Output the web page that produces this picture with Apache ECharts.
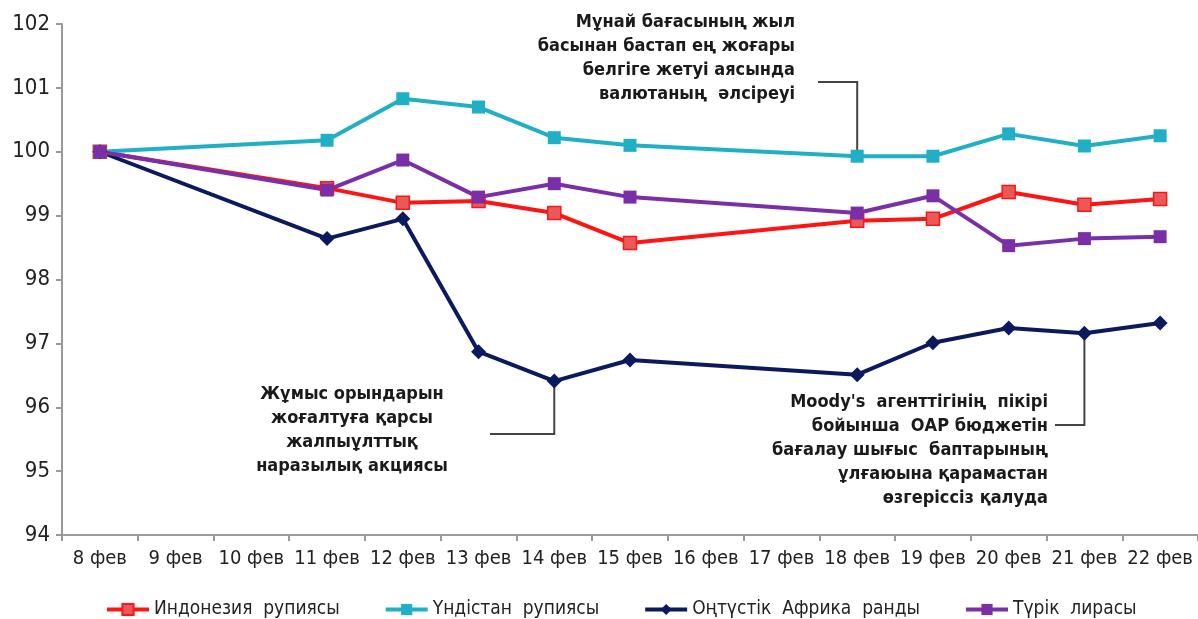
<!DOCTYPE html>
<html>
<head>
<meta charset="utf-8">
<script src="https://cdn.jsdelivr.net/npm/echarts@6/dist/echarts.min.js"></script>
<style>
  html, body { margin: 0; padding: 0; background: #fff; }
  #chart { width: 1198px; height: 619px; }
</style>
</head>
<body>
<div id="chart"></div>
<script>
var FONT = "'Liberation Sans Narrow', 'DejaVu Sans Condensed', 'Liberation Sans', sans-serif";

var days = ['8 фев', '9 фев', '10 фев', '11 фев', '12 фев', '13 фев', '14 фев', '15 фев',
            '16 фев', '17 фев', '18 фев', '19 фев', '20 фев', '21 фев', '22 фев'];

// null = no trading day, line connects over it
var indonesia = [100, null, null, 99.43, 99.20, 99.23, 99.04, 98.57, null, null, 98.92, 98.95, 99.37, 99.17, 99.26];
var india     = [100, null, null, 100.18, 100.83, 100.70, 100.22, 100.10, null, null, 99.93, 99.93, 100.28, 100.09, 100.25];
var safrica   = [100, null, null, 98.64, 98.95, 96.87, 96.41, 96.74, null, null, 96.51, 97.01, 97.24, 97.16, 97.32];
var turkey    = [100, null, null, 99.40, 99.87, 99.29, 99.50, 99.29, null, null, 99.04, 99.31, 98.53, 98.64, 98.67];

var names = ['Индонезия  рупиясы', 'Үндістан  рупиясы', 'Оңтүстік  Африка  ранды', 'Түрік  лирасы'];

var notes = [
  { text: 'Мұнай бағасының жыл\nбасынан бастап ең жоғары\nбелгіге жетуі аясында\nвалютаның  әлсіреуі', series: india, day: 10 },
  { text: 'Жұмыс орындарын\nжоғалтуға қарсы\nжалпыұлттық\nнаразылық акциясы', series: safrica, day: 6 },
  { text: "Moody's  агенттігінің  пікірі\nбойынша  ОАР бюджетін\nбағалау шығыс  баптарының\nұлғаюына қарамастан\nөзгеріссіз қалуда", series: safrica, day: 13 }
];

var chart = echarts.init(document.getElementById('chart'));

function line(name, data, color, symbol, fill) {
  return {
    name: name,
    type: 'line',
    data: data,
    connectNulls: true,
    symbol: symbol,
    symbolSize: symbol === 'diamond' ? 15 : 13,
    lineStyle: { color: color, width: 4 },
    itemStyle: { color: fill || color, borderColor: color, borderWidth: fill ? 1.5 : 0 },
    emphasis: { disabled: true },
    z: 3
  };
}

chart.setOption({
  animation: false,
  textStyle: { fontFamily: FONT },
  grid: { left: 62, top: 24, width: 1146, height: 511, containLabel: false },
  legend: {
    top: 595,
    left: 100,
    itemWidth: 42,
    itemHeight: 14,
    itemGap: 44,
    lineStyle: { width: 4 },
    textStyle: { fontSize: 19, color: '#222', fontFamily: FONT },
    data: names
  },
  xAxis: {
    type: 'category',
    data: days,
    boundaryGap: true,
    axisLine: { lineStyle: { color: '#999', width: 2 } },
    axisTick: { show: true, length: 6, lineStyle: { color: '#999', width: 2 } },
    axisLabel: { interval: 0, fontSize: 20, color: '#222', margin: 14, fontFamily: FONT }
  },
  yAxis: {
    type: 'value',
    min: 94,
    max: 102,
    interval: 1,
    axisLine: { show: true, lineStyle: { color: '#999', width: 2 } },
    axisTick: { show: true, length: 6, lineStyle: { color: '#999', width: 2 } },
    splitLine: { show: false },
    axisLabel: { fontSize: 22, color: '#222', margin: 12, fontFamily: FONT }
  },
  series: [
    line(names[0], indonesia, '#ff1414', 'rect', '#e85a5a'),
    line(names[1], india, '#1fb0c6', 'rect'),
    line(names[2], safrica, '#0b1a5e', 'diamond'),
    line(names[3], turkey, '#7a2fa8', 'rect')
  ]
});

// annotation text blocks with leader lines to the data points
var textPos = [
  { x: 795, y: 10, align: 'right', elbowX: 818, elbowY: 82 },
  { x: 352, y: 382, align: 'center', elbowX: 490, elbowY: 434 },
  { x: 1048, y: 390, align: 'right', elbowX: 1055, elbowY: 425 }
];

var graphics = [];
notes.forEach(function (n, i) {
  var p = chart.convertToPixel({ seriesIndex: 0 }, [n.day, n.series[n.day]]);
  var t = textPos[i];
  graphics.push({
    type: 'text',
    x: t.x,
    y: t.y,
    style: {
      text: n.text,
      align: t.align,
      fontSize: 18,
      fontWeight: 'bold',
      lineHeight: 24,
      fill: '#1a1a1a',
      fontFamily: FONT
    },
    z: 10
  });
  graphics.push({
    type: 'polyline',
    shape: { points: [[t.elbowX, t.elbowY], [p[0], t.elbowY], [p[0], p[1]]] },
    style: { stroke: '#444', lineWidth: 2, fill: null },
    z: 2
  });
});
chart.setOption({ graphic: graphics });
</script>
</body>
</html>
